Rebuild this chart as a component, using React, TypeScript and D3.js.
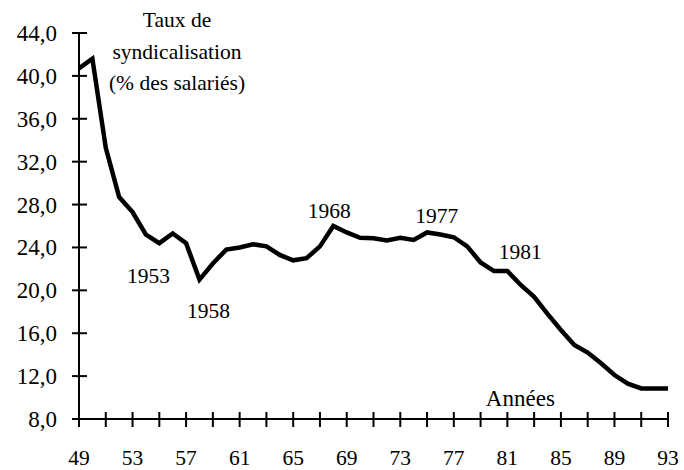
import React from "react";
import * as d3 from "d3";

const years = d3.range(1949, 1994);
const rates = [
  40.7, 41.6, 33.3, 28.7, 27.3, 25.2, 24.4, 25.3, 24.4, 21.0,
  22.5, 23.8, 24.0, 24.3, 24.1, 23.3, 22.8, 23.0, 24.1, 26.0,
  25.4, 24.9, 24.85, 24.66, 24.9, 24.7, 25.4, 25.2, 24.95, 24.1,
  22.6, 21.8, 21.8, 20.5, 19.4, 17.8, 16.3, 14.9, 14.2, 13.2,
  12.1, 11.3, 10.85, 10.85, 10.85,
];
const yTicks = [8, 12, 16, 20, 24, 28, 32, 36, 40, 44];
const xMinorTicks = d3.range(1949, 1994, 2);
const xLabelTicks = d3.range(1949, 1994, 4);
const titleLines = ["Taux de", "syndicalisation", "(% des salariés)"];

const App = () => {
  const width = 684;
  const height = 470;

  const x = d3.scaleLinear().domain([1949, 1993]).range([79, 668]);
  const y = d3.scaleLinear().domain([8, 44]).range([419, 33]);

  const line = d3
    .line<number>()
    .x((d, i) => x(years[i]))
    .y((d) => y(d));

  const fmt = (v: number) => v.toFixed(1).replace(".", ",");
  const txt = { fontFamily: '"Liberation Serif"', fontSize: 21.5 };
  const axisTxt = { fontFamily: '"Liberation Serif"', fontSize: 23 };

  return (
    <svg width={width} height={height} style={{ position: "absolute", left: 0, top: 0, background: "#fff" }}>
      {/* y axis */}
      <line x1={x(1949)} x2={x(1949)} y1={y(44)} y2={y(8)} stroke="#000" strokeWidth={2} />
      {yTicks.map((t) => (
        <g key={t}>
          <line x1={x(1949) - 7} x2={x(1949) + 8} y1={y(t)} y2={y(t)} stroke="#000" strokeWidth={2} />
          <text x={57} y={y(t) + 8} textAnchor="end" style={axisTxt}>
            {fmt(t)}
          </text>
        </g>
      ))}

      {/* x axis */}
      <line x1={x(1949)} x2={x(1993)} y1={y(8)} y2={y(8)} stroke="#000" strokeWidth={2} />
      {xMinorTicks.map((t) => (
        <line key={t} x1={x(t)} x2={x(t)} y1={y(8) - 7} y2={y(8) + 8} stroke="#000" strokeWidth={2} />
      ))}
      {xLabelTicks.map((t) => (
        <text key={t} x={x(t)} y={465} textAnchor="middle" style={txt}>
          {String(t).slice(2)}
        </text>
      ))}

      {/* series */}
      <path d={line(rates) || ""} fill="none" stroke="#000" strokeWidth={4.5} />

      {/* titles */}
      {titleLines.map((s, i) => (
        <text key={s} x={177} y={27 + i * 31.5} textAnchor="middle" style={txt}>
          {s}
        </text>
      ))}
      <text x={x(1981) + 13} y={406} textAnchor="middle" style={axisTxt}>
        Années
      </text>

      {/* annotations */}
      <text x={x(1953) + 16} y={283} textAnchor="middle" style={txt}>1953</text>
      <text x={x(1958) + 9} y={318} textAnchor="middle" style={txt}>1958</text>
      <text x={x(1968) - 4} y={218} textAnchor="middle" style={txt}>1968</text>
      <text x={x(1977) - 17} y={223} textAnchor="middle" style={txt}>1977</text>
      <text x={x(1981) + 13} y={259} textAnchor="middle" style={txt}>1981</text>
    </svg>
  );
};

export default App;
